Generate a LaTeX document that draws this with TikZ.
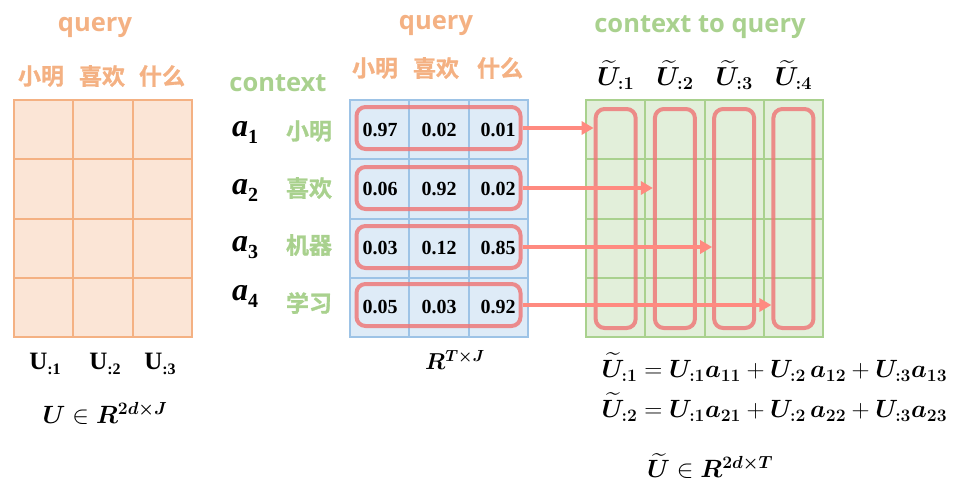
\documentclass[tikz,border=0pt]{standalone}
\usepackage{fix-cm}
\usepackage{amsmath,bm}
\usepackage{fontspec}
\setmainfont{Liberation Serif}
\newfontfamily\cjk{Noto Sans CJK SC Bold}[FakeBold=1.2]
\newfontfamily\lat{Open Sans}
\usetikzlibrary{arrows.meta}
\definecolor{peach}{HTML}{F4B183}
\definecolor{peachfill}{HTML}{FBE5D6}
\definecolor{bluel}{HTML}{9DC3E6}
\definecolor{bluefill}{HTML}{DEEBF7}
\definecolor{greenl}{HTML}{A9D18E}
\definecolor{greenfill}{HTML}{E2EFDA}
\definecolor{redbox}{HTML}{EE7A7A}
\definecolor{redarrow}{HTML}{FF8A80}
\newcommand\avar[1]{{\bfseries\itshape a}\raisebox{-7pt}{\fontsize{20}{20}\selectfont\bfseries #1}}
\newcommand\ucol[1]{{\bfseries U}\raisebox{-5pt}{\fontsize{16}{16}\selectfont\bfseries :#1}}
\tikzset{
  title/.style={font=\lat\bfseries\fontsize{25.5}{25.5}\selectfont},
  cn/.style={font=\cjk\fontsize{23}{23}\selectfont},
  num/.style={font=\bfseries\fontsize{20}{20}\selectfont},
  mth/.style={font=\fontsize{25}{25}\selectfont},
  sel/.style={draw=redbox, draw opacity=0.85, line width=4pt, rounded corners=9pt, inner sep=0pt},
  link/.style={redarrow, line width=3.5pt, -{Triangle[length=12pt,width=13pt]}}
}
\begin{document}
\begin{tikzpicture}[x=1pt,y=-1pt]
\useasboundingbox (0,0) rectangle (969,493);
\foreach \i in {0,1,2} \foreach \j in {0,1,2,3}
  \draw[peach, fill=peachfill, line width=2pt] ({14+59.33*\i},{100+59.25*\j}) rectangle ++(59.33,59.25);
\foreach \i in {0,1,2} \foreach \j in {0,1,2,3}
  \draw[bluel, fill=bluefill, line width=2pt] ({350+59.33*\i},{100+59.25*\j}) rectangle ++(59.33,59.25);
\foreach \i in {0,1,2,3} \foreach \j in {0,1,2,3}
  \draw[greenl, fill=greenfill, line width=2pt] ({586+59.25*\i},{100+59.25*\j}) rectangle ++(59.25,59.25);

\node[title, text=peach] (q1) at (95,27) {query};
\node[title, text=peach] (q2) at (436,25) {query};
\node[title, text=greenl] (ctx) at (278,83) {context};
\node[title, text=greenl] (c2q) at (700,27) {context to query};

\foreach \t/\x [count=\i] in {小明/41,喜欢/102,什么/162}
  \node[cn, text=peach] (h\i) at (\x,76) {\t};
\foreach \t/\x [count=\i] in {小明/375,喜欢/436,什么/500}
  \node[cn, text=peach] (k\i) at (\x,68) {\t};
\foreach \t/\y [count=\i] in {小明/131,喜欢/188,机器/245,学习/303}
  \node[cn, text=greenl] (w\i) at (309,\y) {\t};
\foreach \y [count=\i] in {132,190,248,296}
  \node[font=\fontsize{32}{32}\selectfont] (a\i) at (245,\y) {\avar{\i}};

\foreach \a/\b/\c [count=\j] in {0.97/0.02/0.01,0.06/0.92/0.02,0.03/0.12/0.85,0.05/0.03/0.92} {
  \node[num] (v\j1) at (380,{70.4+59.25*\j}) {\a};
  \node[num] (v\j2) at (439,{70.4+59.25*\j}) {\b};
  \node[num] (v\j3) at (498,{70.4+59.25*\j}) {\c};
}
\foreach \y [count=\j] in {128,188,247,305}
  \node[sel, minimum width=164pt, minimum height=42pt] (r\j) at (438.5,\y) {};
\foreach \k in {1,...,4} {
  \node[sel, minimum width=40pt, minimum height=219pt] (c\k) at ({556.4+59.25*\k},218.5) {};
  \node[mth, font=\fontsize{26}{26}\selectfont] (t\k) at ({556.4+59.25*\k},75) {$\widetilde{\bm U}_{\bm{:\k}}$};
}
\foreach \j in {1,...,4}
  \draw[link] (r\j.east) -- (r\j.east -| c\j.west);

\foreach \x [count=\k] in {45,105,160}
  \node[font=\fontsize{25}{25}\selectfont] (u\k) at (\x,364) {\ucol{\k}};
\node[mth] (dimu) at (105,413) {$\bm{U}\in\bm{R}^{\bm{2d\times J}}$};
\node[mth, font=\fontsize{23}{23}\selectfont] (dimr) at (455,360) {$\bm{R}^{\bm{T\times J}}$};
\node[mth, anchor=west] (eq1) at (598,367) {$\widetilde{\bm U}_{\bm{:1}}=\bm{U_{:1}a_{11}}+\bm{U_{:2}}\,\bm{a_{12}}+\bm{U_{:3}a_{13}}$};
\node[mth, anchor=west] (eq2) at (598,407) {$\widetilde{\bm U}_{\bm{:2}}=\bm{U_{:1}a_{21}}+\bm{U_{:2}}\,\bm{a_{22}}+\bm{U_{:3}a_{23}}$};
\node[mth] (dimt) at (710,466) {$\widetilde{\bm U}\in\bm{R}^{\bm{2d\times T}}$};
\end{tikzpicture}
\end{document}
